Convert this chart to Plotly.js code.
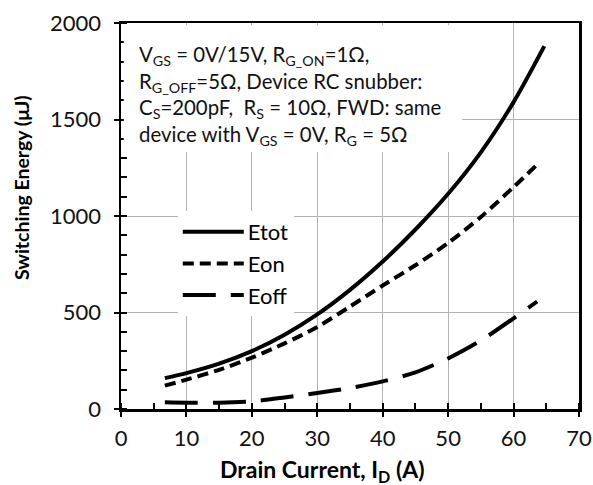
<!DOCTYPE html>
<html><head><meta charset="utf-8">
<script src="https://cdn.plot.ly/plotly-3.0.1.min.js"></script>
<style>html,body{margin:0;padding:0;background:#fff}#c{width:593px;height:485px}</style>
</head><body><div id="c"></div>
<script>
var etotX = [6.7, 10, 15, 20, 25, 30, 35, 40, 45, 50, 55, 60, 64.7];
var etotY = [160, 186, 235, 300, 385, 490, 617, 764, 930, 1115, 1330, 1590, 1880];
var eonX = [6.7, 10, 15, 20, 25, 30, 35, 40, 45, 50, 55, 60, 63.8];
var eonY = [121, 152, 203, 266, 340, 425, 531, 640, 745, 860, 995, 1150, 1273];
var eoffX = [6.7, 10, 15, 20, 25, 30, 35, 40, 45, 50, 55, 60, 63.6];
var eoffY = [35, 33, 33, 40, 60, 83, 109, 143, 190, 262, 355, 470, 557];
var xTicks = [0, 10, 20, 30, 40, 50, 60, 70];
var yTicks = [0, 500, 1000, 1500, 2000];
var names = ['Etot', 'Eon', 'Eoff'];
var xTitle = '<b>Drain Current, I<sub>D</sub> (A)</b>';
var yTitle = '<b>Switching Energy (μJ)</b>';
var noteLines = [
  'V<sub>GS</sub> = 0V/15V, R<sub>G_ON</sub>=1Ω,',
  'R<sub>G_OFF</sub>=5Ω, Device RC snubber:',
  'C<sub>S</sub>=200pF,  R<sub>S</sub> = 10Ω, FWD: same',
  'device with V<sub>GS</sub> = 0V, R<sub>G</sub> = 5Ω'
];

var F = 'Lato, "Open Sans", sans-serif';
var traces = [
  {x: etotX, y: etotY, name: names[0], legendgroup: 'a', mode: 'lines', line: {color: '#000', width: 4, shape: 'spline', smoothing: 0.8}},
  {x: eonX, y: eonY, name: names[1], legendgroup: 'b', mode: 'lines', line: {color: '#000', width: 4, dash: '11px,6px', shape: 'spline', smoothing: 0.8}},
  {x: eoffX, y: eoffY, name: names[2], legendgroup: 'c', mode: 'lines', line: {color: '#000', width: 4, dash: '33px,15px', shape: 'spline', smoothing: 0.8}},
  {x: [], y: [], xaxis: 'x2', yaxis: 'y2', showlegend: false, hoverinfo: 'skip'}
];
var axBase = {
  showline: true, linecolor: '#000', linewidth: 2.5, mirror: true,
  showgrid: true, gridcolor: '#b3b3b3', gridwidth: 1, zeroline: false,
  ticks: 'outside', ticklen: 5, tickwidth: 2, tickcolor: '#000',
  tickfont: {family: F, size: 22, color: '#111'}
};
var innerTicks = {
  ticks: 'inside', ticklen: 6, tickwidth: 2, tickcolor: '#000',
  showgrid: false, showline: false, zeroline: false, showticklabels: false
};
var annots = [{
  xref: 'paper', yref: 'paper', x: 0.036, y: 0.955, xanchor: 'left', yanchor: 'top',
  text: noteLines.join('<br>'), showarrow: false, align: 'left',
  font: {family: F, size: 20.4, color: '#111'}
}];
annots.push({xref: 'paper', yref: 'paper', x: 0.439, y: -0.16, xanchor: 'center', yanchor: 'middle',
  text: xTitle, showarrow: false, font: {family: F, size: 23, color: '#000'}});
annots.push({xref: 'paper', yref: 'paper', x: -0.2155, y: 0.573, xanchor: 'center', yanchor: 'middle',
  text: yTitle, showarrow: false, textangle: -90, font: {family: F, size: 19.5, color: '#000'}});

var layout = {
  width: 593, height: 485,
  margin: {l: 121, r: 14, t: 23, b: 76},
  paper_bgcolor: '#fff', plot_bgcolor: '#fff',
  font: {family: F, color: '#000'},
  showlegend: true,
  legend: {x: 0.124, y: 0.513, xanchor: 'left', yanchor: 'top', bgcolor: '#fff',
           font: {family: F, size: 22, color: '#000'}, tracegroupgap: 0, itemwidth: 60},
  xaxis: Object.assign({}, axBase, {
    range: [0, 70], tickvals: xTicks, ticktext: xTicks.map(String), ticklabelstandoff: 3,
    minor: {dtick: 5, ticks: 'inside', ticklen: 6, tickwidth: 2, tickcolor: '#000', showgrid: false}
  }),
  yaxis: Object.assign({}, axBase, {
    range: [0, 2000], tickvals: yTicks, ticktext: yTicks.map(String), ticklabelstandoff: 8,
    minor: {dtick: 100, ticks: 'inside', ticklen: 6, tickwidth: 2, tickcolor: '#000', showgrid: false}
  }),
  xaxis2: Object.assign({}, innerTicks, {overlaying: 'x', range: [0, 70], tickvals: xTicks, anchor: 'y2'}),
  yaxis2: Object.assign({}, innerTicks, {overlaying: 'y', range: [0, 2000], tickvals: yTicks, anchor: 'x2'}),
  shapes: [{type: 'rect', xref: 'paper', yref: 'paper', x0: 0.006, x1: 0.745, y0: 0.666, y1: 0.994,
            fillcolor: '#fff', line: {width: 0}, layer: 'above'}],
  annotations: annots
};
Plotly.newPlot('c', traces, layout, {displayModeBar: false, staticPlot: true}).then(function (gd) {
  gd.querySelectorAll('.legendlines path').forEach(function (p) { p.setAttribute('d', 'M5,0h61'); });
});
</script></body></html>
